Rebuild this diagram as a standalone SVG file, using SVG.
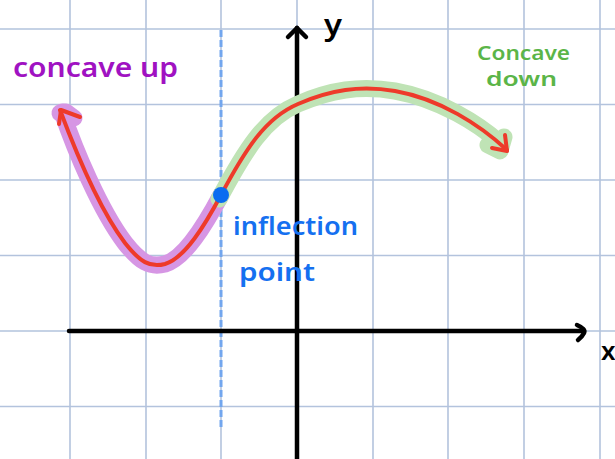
<svg xmlns="http://www.w3.org/2000/svg" width="615" height="459" viewBox="0 0 615 459">
<style>
.grid{stroke:#b3c3dd;stroke-width:1.6;fill:none}
.axis{stroke:#000;stroke-width:4.5;fill:none;stroke-linecap:round;stroke-linejoin:round}
.curve{stroke:#ee3a2a;stroke-width:4;fill:none;stroke-linecap:round;stroke-linejoin:round}
.hl{fill:none;stroke-width:17;stroke-linecap:round;stroke-linejoin:round}
.lbl{font-family:"Noto Sans","Liberation Sans",sans-serif;font-weight:600}
</style>
<rect width="615" height="459" fill="#ffffff"/>
<g id="grid">
<path class="grid" d="M70,0V459M146,0V459M221,0V459M297,0V459M373,0V459M448,0V459M524,0V459M600,0V459"/>
<path class="grid" d="M0,29H615M0,104.5H615M0,180H615M0,255.5H615M0,331H615M0,406.5H615"/>
</g>
<g id="inflection-line">
<path d="M221,30V427" stroke="#72a6ee" stroke-width="3" stroke-dasharray="7,3" fill="none"/>
</g>
<g id="axes">
<path class="axis" d="M297,459V28"/>
<path class="axis" d="M288,37L297,28L306,37"/>
<path class="axis" d="M69,331H584"/>
<path class="axis" d="M577,325Q586,329 584,333Q582,337 578,340"/>
</g>
<g id="highlights">
<path class="hl" stroke="#d696e4" d="M62,112 C 75,150 100,210 125,243 C 140,262 150,268 165,264 C 185,258 205,225 221,195"/>
<path class="hl" stroke="#d696e4" d="M60,113 L66,112 L74,118"/>
<path class="hl" stroke="#bfe3b5" d="M219,199 C 245,150 265,118 298,104 C 330,90 360,85 395,91 C 440,99 480,125 500,143"/>
<path class="hl" stroke="#bfe3b5" d="M488,145 L500,151 L504,137"/>
</g>
<g id="curve">
<path class="curve" d="M60,110 C 75,150 100,210 125,243 C 140,262 150,268 165,264 C 185,258 205,225 221,195 C 245,150 265,118 298,104 C 330,90 360,85 395,91 C 440,99 480,125 507,150"/>
<path class="curve" d="M59,124L61,110L80,117"/>
<path class="curve" d="M492,148L507,151L505,135"/>
</g>
<g id="inflection-point">
<circle cx="221" cy="195" r="8" fill="#0a6cf0"/>
</g>
<g id="labels">
<text class="lbl" x="13" y="77" font-size="27" fill="#a012c2" textLength="165" lengthAdjust="spacingAndGlyphs">concave up</text>
<text class="lbl" x="477" y="60" font-size="20" fill="#5bb548" textLength="93" lengthAdjust="spacingAndGlyphs">Concave</text>
<text class="lbl" x="486" y="86" font-size="20" fill="#5bb548" textLength="71" lengthAdjust="spacingAndGlyphs">down</text>
<text class="lbl" x="233" y="235" font-size="26" fill="#1570f0" textLength="125" lengthAdjust="spacingAndGlyphs">inflection</text>
<text class="lbl" x="239" y="281" font-size="26" fill="#1570f0" textLength="76" lengthAdjust="spacingAndGlyphs">point</text>
<text class="lbl" x="324" y="35" font-size="28" fill="#000" textLength="18" lengthAdjust="spacingAndGlyphs">y</text>
<text class="lbl" x="601" y="360" font-size="26" fill="#000">x</text>
</g>
</svg>
